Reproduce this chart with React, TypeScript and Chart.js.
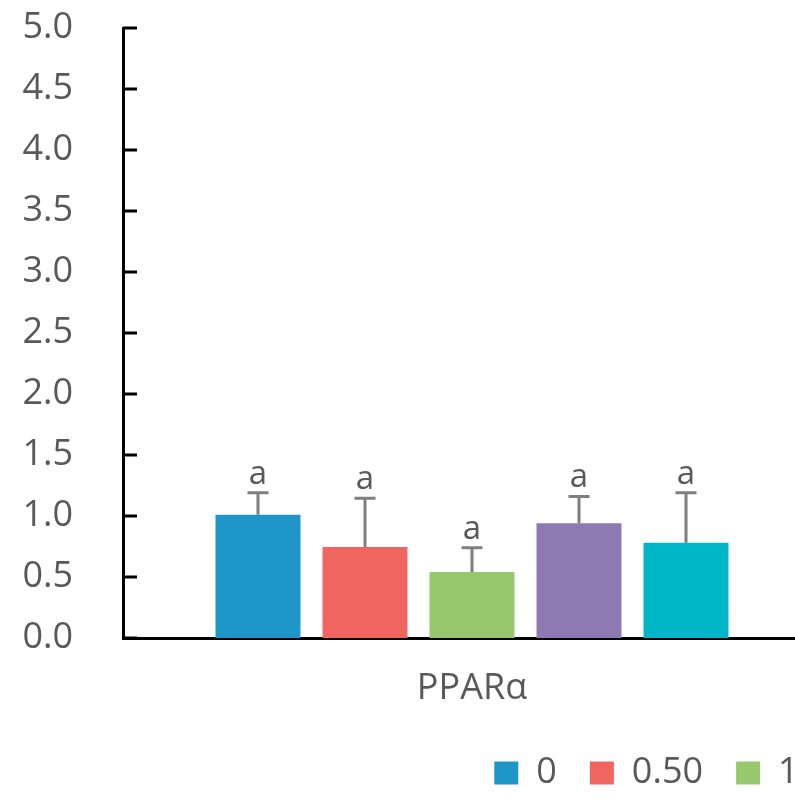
import React, { useEffect, useRef } from "react";
import { Chart, registerables } from "chart.js";

Chart.register(...registerables);

const categories = ["PPARα"];
const seriesNames = ["0", "0.50", "1.00", "1.50", "2.00"];
const means = [1.01, 0.746, 0.54, 0.94, 0.78];
const errors = [0.18, 0.40, 0.20, 0.22, 0.41];
const letters = ["a", "a", "a", "a", "a"];
const colors = ["#1E96C8", "#F06560", "#98C86E", "#8F79B3", "#00B6C6"];
const yTicks = [0, 0.5, 1, 1.5, 2, 2.5, 3, 3.5, 4, 4.5, 5];

const W = 1636;
const H = 801;
const PLOT_RIGHT = 821;
const FONT = "'Open Sans', sans-serif";

const errorBarPlugin = {
  id: "errorBars",
  afterDatasetsDraw(chart: any) {
    const ctx = chart.ctx;
    const y = chart.scales.y;
    ctx.save();
    chart.data.datasets.forEach((ds: any, i: number) => {
      const meta = chart.getDatasetMeta(i);
      meta.data.forEach((bar: any, j: number) => {
        const v = ds.data[j];
        const e = errors[i];
        const top = y.getPixelForValue(v + e);
        const base = y.getPixelForValue(v);
        ctx.strokeStyle = "#7F7F7F";
        ctx.lineWidth = 3;
        ctx.beginPath();
        ctx.moveTo(bar.x, base);
        ctx.lineTo(bar.x, top);
        ctx.moveTo(bar.x - 10.5, top);
        ctx.lineTo(bar.x + 10.5, top);
        ctx.stroke();
        ctx.fillStyle = "#595959";
        ctx.font = `33px ${FONT}`;
        ctx.textAlign = "center";
        ctx.textBaseline = "alphabetic";
        ctx.fillText(letters[i], bar.x, top - 9);
      });
    });
    ctx.restore();
  },
  afterDraw(chart: any) {
    const ctx = chart.ctx;
    const y = chart.scales.y;
    const left = chart.chartArea.left;
    ctx.save();
    ctx.strokeStyle = "#000000";
    ctx.lineWidth = 3;
    y.ticks.forEach((t: any) => {
      const py = y.getPixelForValue(t.value);
      ctx.beginPath();
      ctx.moveTo(left, py);
      ctx.lineTo(left + 14, py);
      ctx.stroke();
    });
    ctx.restore();
  },
};

export default function App() {
  const ref = useRef<HTMLCanvasElement>(null);
  useEffect(() => {
    if (!ref.current) return;
    const chart = new Chart(ref.current, {
      type: "bar",
      data: {
        labels: categories,
        datasets: seriesNames.map((name, i) => ({
          label: name,
          data: [means[i]],
          backgroundColor: colors[i],
          borderWidth: 0,
          categoryPercentage: 0.7665,
          barPercentage: 0.794,
        })),
      },
      options: {
        responsive: false,
        animation: false,
        layout: { padding: { top: 28, left: 0, right: 0, bottom: 0 } },
        plugins: {
          legend: {
            position: "bottom",
            labels: {
              boxWidth: 24,
              boxHeight: 23,
              padding: 33,
              color: "#595959",
              font: { family: FONT, size: 36 },
            },
          },
          tooltip: { enabled: false },
        },
        scales: {
          x: {
            grid: { display: false, drawTicks: false },
            border: { display: true, color: "#000000", width: 3 },
            ticks: {
              color: "#595959",
              font: { family: FONT, size: 36 },
              padding: 29,
            },
            afterFit: (s: any) => {
              s.height = 84;
            },
          },
          y: {
            min: 0,
            max: 5,
            afterBuildTicks: (s: any) => {
              s.ticks = yTicks.map((v) => ({ value: v }));
            },
            grid: { display: false, drawTicks: false },
            border: { display: true, color: "#000000", width: 3 },
            ticks: {
              color: "#595959",
              font: { family: FONT, size: 36 },
              padding: 50,
              callback: (v: any) => Number(v).toFixed(1),
            },
            afterFit: (s: any) => {
              s.width = 123;
              s.paddingTop = 0;
              s.paddingBottom = 0;
            },
          },
          y2: {
            position: "right",
            display: true,
            grid: { display: false, drawTicks: false },
            border: { display: false },
            ticks: { display: false },
            afterFit: (s: any) => {
              s.width = W - PLOT_RIGHT;
              s.paddingTop = 0;
              s.paddingBottom = 0;
            },
          },
        },
      },
      plugins: [errorBarPlugin],
    });
    return () => chart.destroy();
  }, []);
  return (
    <div
      style={{
        position: "fixed",
        left: 0,
        top: 0,
        width: 795,
        height: 801,
        overflow: "hidden",
        background: "#ffffff",
      }}
    >
      <canvas ref={ref} width={W} height={H} style={{ display: "block" }} />
    </div>
  );
}
